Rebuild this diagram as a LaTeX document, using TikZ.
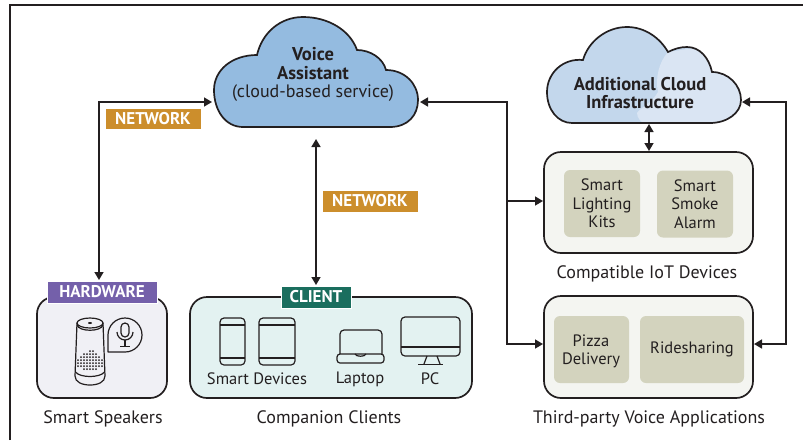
\documentclass[tikz,border=0pt]{standalone}
\usepackage{fontspec}
\setmainfont{PT Sans}
\usetikzlibrary{arrows.meta}
\definecolor{ink}{HTML}{231F20}
\definecolor{cloudA}{HTML}{94BBE0}
\definecolor{cloudB}{HTML}{C3D7EC}
\definecolor{cloudC}{HTML}{DAE5F3}
\definecolor{netc}{HTML}{CC8E2C}
\definecolor{hwc}{HTML}{7460AA}
\definecolor{clc}{HTML}{1A6E5E}
\definecolor{hwbg}{HTML}{F0F0F5}
\definecolor{clbg}{HTML}{E3F2F1}
\definecolor{iotbg}{HTML}{F4F5F1}
\definecolor{inner}{HTML}{D3D3BE}
\tikzset{
 frameline/.style={draw=ink,line width=1.7pt},
 conn/.style={draw=ink,line width=1.6pt},
 tip/.style={-{Triangle[length=8pt,width=9pt]}},
 bitip/.style={{Triangle[length=8pt,width=9pt]}-{Triangle[length=8pt,width=9pt]}},
 cloudline/.style={draw=ink,line width=1.7pt},
 bigbox/.style={draw=ink,line width=1.7pt,rounded corners=17pt,inner sep=0pt,outer sep=0pt},
 smallbox/.style={fill=inner,rounded corners=6pt,inner sep=0pt,outer sep=0pt,align=center,text=ink,font=\fontsize{16.5}{18.5}\selectfont},
 tagbox/.style={text=white,inner sep=0pt,outer sep=0pt,font=\fontsize{17}{18}\selectfont\bfseries,draw=white,line width=0.5pt},
 caption/.style={text=ink,inner sep=0pt,align=center,font=\fontsize{18}{18.5}\selectfont},
 smallcap/.style={text=ink,inner sep=0pt,align=center,font=\fontsize{16.5}{18.5}\selectfont},
 cloudtext/.style={text=ink,inner sep=0pt,align=center,font=\fontsize{18}{18.5}\selectfont},
 icon/.style={draw=ink,line width=1.2pt,line join=round},
}
\newcommand{\voicecloud}{(243,127) -- (390,127) .. controls (408,127) and (418,115) .. (418,100) .. controls (418,84) and (405,70) .. (386,70) .. controls (383,58) and (370,50) .. (357,50) .. controls (350,30) and (328,17) .. (303,17) .. controls (280,17) and (262,33) .. (257,55) .. controls (232,55) and (214,70) .. (214,90) .. controls (214,110) and (225,127) .. (243,127) -- cycle}
\newcommand{\addcloud}{(572,123) -- (710,123) .. controls (727,123) and (741,113) .. (741,100) .. controls (741,85) and (728,72) .. (712,72) .. controls (709,58) and (700,47) .. (687,47) .. controls (680,47) and (674,49) .. (668,52) .. controls (660,38) and (645,27) .. (627,27) .. controls (606,27) and (588,42) .. (583,60) .. controls (563,58) and (547,73) .. (547,92) .. controls (547,110) and (558,123) .. (572,123) -- cycle}
\begin{document}
\begin{tikzpicture}[x=1pt,y=-1pt]
\useasboundingbox (0,0) rectangle (803,440);
\draw[frameline] (10,440) -- (10,5) -- (803,5);
% clouds
\path[fill=cloudA] \voicecloud;
\path[cloudline] \voicecloud;
\path[fill=cloudB] \addcloud;
\begin{scope}
\clip \addcloud;
\fill[cloudC] (668,52) .. controls (659,62) and (655,78) .. (658,92) .. controls (652,103) and (640,108) .. (637,113) .. controls (637,118) and (641,122) .. (646,125) -- (745,125) -- (745,40) -- cycle;
\end{scope}
\path[cloudline] \addcloud;
\node[cloudtext] (voice) at (313,74.5) {{\fontsize{18.5}{18.5}\selectfont\textbf{Voice}}\\{\fontsize{18.5}{18.5}\selectfont\textbf{Assistant}}\\(cloud-based service)};
\node[cloudtext,font=\fontsize{18.5}{18.5}\selectfont\bfseries] (extra) at (640,93) {Additional Cloud\\Infrastructure};
% boxes
\node[bigbox,fill=hwbg,minimum width=130pt,minimum height=101pt] (hw) at (102,347.5) {};
\node[bigbox,fill=clbg,minimum width=282pt,minimum height=101pt] (cl) at (331,347.5) {};
\node[bigbox,fill=iotbg,minimum width=209pt,minimum height=101pt] (iot) at (648.5,202.5) {};
\node[bigbox,fill=iotbg,minimum width=209pt,minimum height=102pt] (apps) at (648.5,347) {};
\node[smallbox,minimum width=76pt,minimum height=67pt] (kits) at (602,203.5) {Smart\\Lighting\\Kits};
\node[smallbox,minimum width=76pt,minimum height=67pt] (alarm) at (695,204) {Smart\\Smoke\\Alarm};
\node[smallbox,minimum width=75pt,minimum height=67pt] (pizza) at (591.5,349.5) {};
\node[smallcap] (pizzatext) at (591,351.5) {Pizza\\Delivery};
\node[smallbox,minimum width=104pt,minimum height=67pt] (ride) at (692,349.5) {Ridesharing};
% tags
\node[tagbox,fill=hwc,minimum width=110pt,minimum height=22pt] (hwtag) at (102,292) {HARDWARE};
\node[tagbox,fill=clc,minimum width=70pt,minimum height=22pt] (cltag) at (316,297) {CLIENT};
\node[tagbox,fill=netc,minimum width=96pt,minimum height=21pt] (net1) at (153,118.5) {NETWORK};
\node[tagbox,fill=netc,minimum width=96pt,minimum height=22pt] (net2) at (370,201) {NETWORK};
% captions
\node[caption] (cap1) at (103,418.5) {Smart Speakers};
\node[caption] (cap2) at (329,418.5) {Companion Clients};
\node[caption] (cap3) at (647,274) {Compatible IoT Devices};
\node[caption] (cap4) at (649,418.5) {Third-party Voice Applications};
\node[smallcap] (sd) at (257,379) {Smart Devices};
\node[smallcap] (lt) at (360,379) {Laptop};
\node[smallcap] (pc) at (430,379) {PC};
% ports
\coordinate (voiceW) at (212,102);
\coordinate (hwN) at (99,280);
\coordinate (voiceS) at (316,139);
\coordinate (clN) at (316,285);
\coordinate (voiceE) at (420,102);
\coordinate (busM) at (507,201);
\coordinate (busB) at (507,344);
\coordinate (iotW) at (543,201);
\coordinate (appsW) at (543,344);
\coordinate (extraE) at (742,102);
\coordinate (busR) at (786,344);
\coordinate (appsE) at (754,344);
\coordinate (extraS) at (649,124);
\coordinate (iotN) at (649,151);
\draw[conn,bitip] (voiceW) -| (hwN);
\draw[conn,bitip] (voiceS) -- (clN);
\draw[conn,bitip] (voiceE) -| (busB) -- (appsW);
\draw[conn,tip] (busM) -- (iotW);
\draw[conn,bitip] (extraE) -| (busR) -- (appsE);
\draw[conn,bitip] (extraS) -- (iotN);
% speaker
\draw[icon,fill=hwbg] (77,323) -- (75,376) .. controls (75,382) and (82,385) .. (90,385) .. controls (98,385) and (105,382) .. (105,376) -- (103,323);
\draw[icon] (90,323) ellipse (13pt and 5pt);
\draw[icon] (77,325) .. controls (79,332) and (101,332) .. (103,325);
\draw[icon] (75.5,372) .. controls (80,378) and (100,378) .. (104.5,372);
\fill[ink] (90,323) ellipse (2pt and 1pt);
\foreach \x/\a/\b in {78/358/366,81/356/368,84/354/369,87/352/369,90/351/369,93/351/369,96/354/369,99/356/368,102/358/366}{
 \foreach \y in {351,354,...,369}{
  \ifnum\y<\a\relax\else\ifnum\y>\b\relax\else\fill[ink] (\x,\y) circle (1pt);\fi\fi
 }
}
\draw[icon] (108,352) -- (108,335) arc[start angle=180,end angle=-90,radius=17pt] -- cycle;
\draw[icon] (121,323) ++(0,4) arc[start angle=180,end angle=0,radius=4pt] -- (129,333) arc[start angle=0,end angle=-180,radius=4pt] -- cycle;
\draw[icon] (117,332) arc[start angle=180,end angle=360,radius=8pt];
\draw[icon] (125,340) -- (125,346) (120,346.5) -- (130,346.5);
% phone
\draw[icon,rounded corners=4pt] (220,318) rectangle (245,365);
\draw[icon] (220,325) -- (245,325) (220,358) -- (245,358);
% tablet
\draw[icon,rounded corners=4pt] (259,318) rectangle (295,365);
\draw[icon] (259,325) -- (295,325) (259,358) -- (295,358);
% laptop
\draw[icon,rounded corners=4pt] (340,354) -- (340,330) -- (382,330) -- (382,354);
\draw[icon,rounded corners=3pt] (337,354) -- (384,354) -- (384,363) -- (337,363) -- cycle;
\draw[icon] (355,354) .. controls (356,357) and (365,357) .. (366,354);
% pc
\draw[icon,rounded corners=4pt] (401,317) rectangle (460,356);
\draw[icon] (401,347) -- (460,347);
\draw[icon] (427,356) -- (424,364) (437,356) -- (440,364);
\draw[icon,line width=1.7pt] (418,364.5) -- (443,364.5);
\end{tikzpicture}
\end{document}
